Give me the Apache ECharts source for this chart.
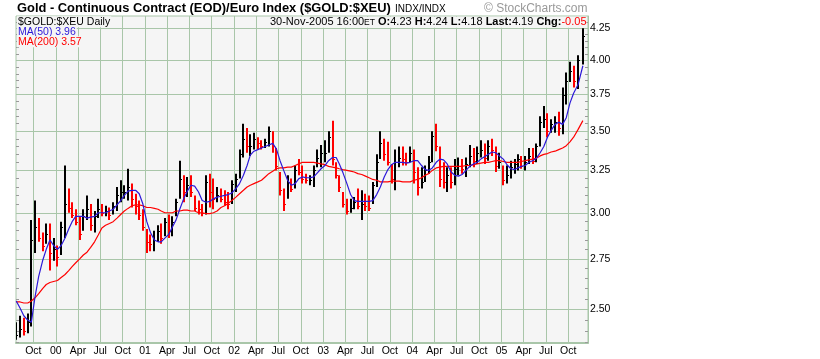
<!DOCTYPE html>
<html><head><meta charset="utf-8">
<script src="https://cdn.jsdelivr.net/npm/echarts@6/dist/echarts.min.js"></script>
<style>html,body{margin:0;padding:0;background:#fff}#c{width:820px;height:359px}</style>
</head><body><div id="c"></div>
<script>
// ---- data (half-month bars) ----
const dates = [
'1999-07-23','1999-08-08','1999-08-23','1999-09-08','1999-09-23','1999-10-08','1999-10-23','1999-11-08','1999-11-23','1999-12-08','1999-12-23',
'2000-01-08','2000-01-23','2000-02-08','2000-02-23','2000-03-08','2000-03-23','2000-04-08','2000-04-23','2000-05-08','2000-05-23','2000-06-08','2000-06-23','2000-07-08','2000-07-23','2000-08-08','2000-08-23','2000-09-08','2000-09-23','2000-10-08','2000-10-23','2000-11-08','2000-11-23','2000-12-08','2000-12-23',
'2001-01-08','2001-01-23','2001-02-08','2001-02-23','2001-03-08','2001-03-23','2001-04-08','2001-04-23','2001-05-08','2001-05-23','2001-06-08','2001-06-23','2001-07-08','2001-07-23','2001-08-08','2001-08-23','2001-09-08','2001-09-23','2001-10-08','2001-10-23','2001-11-08','2001-11-23','2001-12-08','2001-12-23',
'2002-01-08','2002-01-23','2002-02-08','2002-02-23','2002-03-08','2002-03-23','2002-04-08','2002-04-23','2002-05-08','2002-05-23','2002-06-08','2002-06-23','2002-07-08','2002-07-23','2002-08-08','2002-08-23','2002-09-08','2002-09-23','2002-10-08','2002-10-23','2002-11-08','2002-11-23','2002-12-08','2002-12-23',
'2003-01-08','2003-01-23','2003-02-08','2003-02-23','2003-03-08','2003-03-23','2003-04-08','2003-04-23','2003-05-08','2003-05-23','2003-06-08','2003-06-23','2003-07-08','2003-07-23','2003-08-08','2003-08-23','2003-09-08','2003-09-23','2003-10-08','2003-10-23','2003-11-08','2003-11-23','2003-12-08','2003-12-23',
'2004-01-08','2004-01-23','2004-02-08','2004-02-23','2004-03-08','2004-03-23','2004-04-08','2004-04-23','2004-05-08','2004-05-23','2004-06-08','2004-06-23','2004-07-08','2004-07-23','2004-08-08','2004-08-23','2004-09-08','2004-09-23','2004-10-08','2004-10-23','2004-11-08','2004-11-23','2004-12-08','2004-12-23',
'2005-01-08','2005-01-23','2005-02-08','2005-02-23','2005-03-08','2005-03-23','2005-04-08','2005-04-23','2005-05-08','2005-05-23','2005-06-08','2005-06-23','2005-07-08','2005-07-23','2005-08-08','2005-08-23','2005-09-08','2005-09-23','2005-10-08','2005-10-23','2005-11-10','2005-11-30'
];
const lows = [
2.36,2.37,2.38,2.39,2.42,2.78,2.84,2.79,2.83,2.69,2.74,
2.71,2.77,2.86,3.00,2.97,2.93,2.85,2.90,2.96,2.90,2.89,2.97,2.98,2.98,2.96,2.99,3.01,3.06,3.08,3.07,3.03,2.99,2.96,2.90,
2.78,2.79,2.79,2.84,2.83,2.87,2.86,2.87,2.98,3.08,3.06,3.09,3.09,3.01,2.99,2.98,2.99,3.03,3.02,3.06,3.06,3.04,3.02,3.05,
3.12,3.20,3.33,3.36,3.34,3.38,3.38,3.38,3.39,3.40,3.36,3.25,3.10,3.01,3.08,3.12,3.14,3.22,3.17,3.17,3.16,3.15,3.27,3.27,
3.30,3.36,3.28,3.20,3.12,3.03,2.99,3.00,3.02,3.02,2.96,3.01,3.01,3.05,3.15,3.32,3.31,3.28,3.17,3.13,3.27,3.28,3.28,3.30,
3.17,3.10,3.14,3.18,3.23,3.30,3.37,3.15,3.14,3.12,3.14,3.16,3.22,3.23,3.21,3.27,3.27,3.29,3.33,3.29,3.31,3.34,3.24,3.26,
3.16,3.17,3.20,3.23,3.25,3.26,3.25,3.29,3.29,3.30,3.40,3.52,3.46,3.49,3.49,3.47,3.48,3.68,3.84,3.80,3.79,3.97
];
const highs = [
2.44,2.47,2.46,2.48,2.96,3.07,2.97,2.89,2.94,2.94,2.86,
2.82,2.95,3.28,3.14,3.06,3.02,2.98,3.02,3.10,3.05,3.01,3.08,3.05,3.04,3.03,3.06,3.15,3.19,3.16,3.26,3.17,3.11,3.07,3.02,
2.91,2.88,2.90,2.93,2.94,2.97,2.99,2.98,3.08,3.31,3.22,3.21,3.22,3.10,3.07,3.05,3.22,3.23,3.20,3.15,3.14,3.13,3.12,3.19,
3.23,3.38,3.55,3.52,3.48,3.49,3.46,3.44,3.45,3.53,3.50,3.39,3.24,3.14,3.22,3.20,3.28,3.32,3.28,3.23,3.22,3.28,3.38,3.41,
3.44,3.50,3.57,3.30,3.22,3.12,3.08,3.08,3.09,3.14,3.13,3.11,3.10,3.18,3.35,3.50,3.45,3.43,3.29,3.38,3.40,3.40,3.36,3.40,
3.38,3.27,3.27,3.28,3.34,3.50,3.55,3.40,3.30,3.27,3.27,3.32,3.33,3.32,3.33,3.41,3.39,3.40,3.44,3.42,3.44,3.45,3.40,3.36,
3.28,3.28,3.31,3.32,3.35,3.34,3.34,3.39,3.39,3.42,3.60,3.67,3.62,3.58,3.60,3.63,3.80,3.91,3.99,3.96,4.04,4.25
];
const closes = [
2.38,2.41,2.40,2.44,2.85,2.92,2.86,2.82,2.88,2.78,2.80,
2.76,2.92,3.05,3.03,2.99,2.95,2.88,2.98,3.02,2.93,2.98,3.02,3.00,3.01,2.99,3.04,3.10,3.12,3.12,3.15,3.08,3.04,2.99,2.92,
2.84,2.83,2.85,2.90,2.86,2.95,2.90,2.95,3.06,3.20,3.12,3.16,3.12,3.03,3.02,3.00,3.18,3.12,3.08,3.10,3.08,3.06,3.05,3.17,
3.20,3.35,3.45,3.40,3.40,3.45,3.42,3.40,3.43,3.50,3.40,3.28,3.13,3.05,3.18,3.14,3.25,3.24,3.20,3.19,3.19,3.25,3.33,3.36,
3.36,3.46,3.32,3.22,3.15,3.05,3.01,3.03,3.06,3.04,3.05,3.04,3.03,3.16,3.30,3.42,3.35,3.30,3.20,3.30,3.33,3.32,3.30,3.36,
3.24,3.15,3.18,3.25,3.30,3.47,3.40,3.20,3.18,3.22,3.18,3.26,3.28,3.26,3.29,3.34,3.31,3.36,3.38,3.33,3.40,3.38,3.28,3.30,
3.19,3.22,3.27,3.29,3.32,3.28,3.30,3.34,3.31,3.40,3.56,3.58,3.50,3.55,3.56,3.52,3.75,3.85,3.92,3.85,4.00,4.19
];
const ma50 = [
2.54,2.505,2.47,2.45,2.44,2.56,2.66,2.74,2.80,2.85,2.82,
2.80,2.82,2.86,2.91,2.95,2.98,2.98,2.98,2.97,2.975,2.98,3.00,3.00,3.00,3.01,3.02,3.045,3.07,3.10,3.125,3.13,3.13,3.11,3.05,
2.95,2.89,2.85,2.84,2.84,2.86,2.88,2.92,2.96,3.02,3.08,3.125,3.16,3.155,3.12,3.07,3.06,3.065,3.08,3.09,3.095,3.10,3.105,3.115,
3.14,3.17,3.22,3.28,3.345,3.37,3.38,3.39,3.40,3.41,3.42,3.385,3.31,3.25,3.19,3.16,3.17,3.20,3.21,3.205,3.205,3.21,3.235,3.26,
3.28,3.31,3.33,3.33,3.29,3.235,3.17,3.105,3.07,3.065,3.065,3.065,3.065,3.07,3.105,3.15,3.21,3.255,3.285,3.30,3.30,3.30,3.295,3.30,
3.31,3.31,3.28,3.255,3.25,3.265,3.30,3.32,3.315,3.29,3.24,3.22,3.215,3.225,3.25,3.275,3.29,3.30,3.32,3.335,3.35,3.365,3.36,3.34,
3.32,3.285,3.26,3.255,3.265,3.275,3.28,3.30,3.31,3.325,3.36,3.40,3.46,3.505,3.545,3.56,3.545,3.59,3.69,3.76,3.82,3.96
];
const ma200 = [
2.535,2.535,2.53,2.53,2.54,2.555,2.575,2.60,2.62,2.63,2.635,
2.64,2.655,2.67,2.69,2.71,2.73,2.75,2.77,2.785,2.81,2.84,2.877,2.915,2.93,2.94,2.95,2.97,2.99,3.01,3.025,3.04,3.045,3.045,3.04,
3.03,3.03,3.025,3.02,3.01,3.00,3.00,3.00,3.01,3.01,3.015,3.015,3.01,3.01,3.00,3.00,2.995,2.995,3.00,3.01,3.03,3.04,3.055,3.07,
3.09,3.11,3.13,3.15,3.16,3.17,3.18,3.19,3.21,3.23,3.245,3.26,3.265,3.265,3.27,3.27,3.28,3.29,3.30,3.30,3.30,3.30,3.295,3.29,
3.285,3.275,3.27,3.265,3.26,3.255,3.25,3.245,3.24,3.23,3.225,3.215,3.205,3.195,3.19,3.18,3.18,3.18,3.185,3.185,3.185,3.18,3.18,3.18,
3.19,3.195,3.205,3.22,3.23,3.25,3.265,3.27,3.275,3.275,3.275,3.275,3.275,3.275,3.28,3.28,3.285,3.29,3.295,3.30,3.30,3.305,3.31,3.31,
3.305,3.30,3.30,3.30,3.30,3.305,3.31,3.315,3.32,3.325,3.34,3.35,3.355,3.365,3.37,3.38,3.39,3.405,3.43,3.46,3.51,3.57
];
const yTickLabels = [2.50, 2.75, 3.00, 3.25, 3.50, 3.75, 4.00, 4.25];
const yMinorTicks = [2.35,2.40,2.45,2.55,2.60,2.65,2.70,2.80,2.85,2.90,2.95,3.05,3.10,3.15,3.20,3.30,3.35,3.40,3.45,3.55,3.60,3.65,3.70,3.80,3.85,3.90,3.95,4.05,4.10,4.15,4.20,4.30];
const xTickDates = ['1999-10-01','2000-01-01','2000-04-01','2000-07-01','2000-10-01','2001-01-01','2001-04-01','2001-07-01','2001-10-01','2002-01-01','2002-04-01','2002-07-01','2002-10-01','2003-01-01','2003-04-01','2003-07-01','2003-10-01','2004-01-01','2004-04-01','2004-07-01','2004-10-01','2005-01-01','2005-04-01','2005-07-01','2005-10-01'];
const xTickLabels = ['Oct','00','Apr','Jul','Oct','01','Apr','Jul','Oct','02','Apr','Jul','Oct','03','Apr','Jul','Oct','04','Apr','Jul','Oct','05','Apr','Jul','Oct'];
const yMin = 2.346, yMax = 4.35;
const xMinDate = '1999-07-22', xMaxDate = '2005-12-21';
const lastStamp = '30-Nov-2005 16:00';
const lastOpen = '4.23', lastHigh = '4.24', lastLow = '4.18', lastClose = '4.19', lastChg = '-0.05';

// ---- build ----
const FONT = '"Liberation Sans", Arial, Helvetica, sans-serif';
const GRID = '#a9c6a9';
const BG = '#f5f5f5';
const BLUE = '#2c18d8';
const RED = '#ff0000';
const DAY = 86400000;
function ts(s){ const p = s.split('-').map(Number); return Math.round(Date.UTC(p[0], p[1]-1, p[2]) / DAY); }
const xTicks = xTickDates.map(ts);
const xLabelMap = new Map(xTicks.map((t,i)=>[t, xTickLabels[i]]));
const lnMin = Math.log(yMin), lnMax = Math.log(yMax);

const barData = dates.map((d,i)=>[ts(d), Math.log(lows[i]), Math.log(highs[i]), (i===0 || closes[i] >= closes[i-1]) ? 1 : 0, Math.log(closes[i])]);
const ma50Data = dates.map((d,i)=>[ts(d), Math.log(ma50[i])]);
const ma200Data = dates.map((d,i)=>[ts(d), Math.log(ma200[i])]);

const chart = echarts.init(document.getElementById('c'), null, {renderer:'canvas'});
const minorAxis = (pos)=>({
  type:'value', position:pos, min:lnMin, max:lnMax,
  axisLine:{show:false}, axisLabel:{show:false}, splitLine:{show:false},
  axisTick:{show:true, inside:true, length:3, customValues: yMinorTicks.map(Math.log), lineStyle:{color:'#9a9a9a', width:1}}
});
chart.setOption({
  animation:false,
  backgroundColor:'#fff',
  grid:{left:16, right:232, top:16, bottom:16, show:true, backgroundColor:BG, borderColor:GRID, borderWidth:1, containLabel:false},
  xAxis:{
    type:'value', min:ts(xMinDate), max:ts(xMaxDate),
    axisLine:{show:true, onZero:false, lineStyle:{color:GRID, width:2}},
    axisTick:{show:false, customValues:xTicks},
    axisLabel:{customValues:xTicks, formatter:(v)=>xLabelMap.get(Math.round(v)) || '', color:'#000', fontSize:10.5, fontFamily:FONT, margin:3, hideOverlap:false},
    splitLine:{show:true, lineStyle:{color:GRID, width:1}}
  },
  yAxis:[
    {
      type:'value', position:'right', min:lnMin, max:lnMax,
      axisLine:{show:true, lineStyle:{color:GRID, width:1}},
      axisTick:{show:false, customValues: yTickLabels.map(Math.log)},
      axisLabel:{customValues: yTickLabels.map(Math.log), formatter:(v)=>Math.exp(v).toFixed(2), color:'#000', fontSize:10.5, fontFamily:FONT, margin:2},
      splitLine:{show:true, lineStyle:{color:GRID, width:1}}
    },
    minorAxis('right'),
    minorAxis('left')
  ],
  series:[
    {
      type:'custom', clip:true, encode:{x:0, y:[1,2]}, data:barData, z:2,
      renderItem:function(params, api){
        const t = api.value(0);
        const pLo = api.coord([t, api.value(1)]);
        const pHi = api.coord([t, api.value(2)]);
        const pC = api.coord([t, api.value(4)]);
        const up = api.value(3) > 0;
        const col = up ? '#000' : RED;
        const x0 = Math.round(pLo[0]) - 1;
        return {type:'group', children:[
          {type:'rect', shape:{x:x0, y:pHi[1], width:2, height:Math.max(1, pLo[1]-pHi[1])}, style:{fill:col}},
          {type:'rect', shape:{x:x0+2, y:Math.round(pC[1]), width:1, height:1}, style:{fill:col}}
        ]};
      }
    },
    {type:'line', data:ma200Data, showSymbol:false, symbol:'none', z:3, lineStyle:{color:RED, width:1.2}, clip:true},
    {type:'line', data:ma50Data, showSymbol:false, symbol:'none', z:4, lineStyle:{color:BLUE, width:1.2}, clip:true}
  ],
  graphic:[
    {type:'text', x:17, y:8.5, z:100, style:{text:'Gold - Continuous Contract (EOD)/Euro Index ($GOLD:$XEU)', font:'bold 12.9px '+FONT, fill:'#000', verticalAlign:'middle'}},
    {type:'text', x:395, y:9.3, z:100, style:{text:'INDX/INDX', font:'10px '+FONT, fill:'#000', verticalAlign:'middle'}},
    {type:'text', x:587.5, y:8.3, z:100, style:{text:'\u00a9 StockCharts.com', font:'12px '+FONT, fill:'#999', align:'right', verticalAlign:'middle'}},
    {type:'text', x:17, y:21.7, z:100, style:{text:'$GOLD:$XEU Daily', font:'10.5px '+FONT, fill:'#000', verticalAlign:'middle', backgroundColor:BG, padding:[0,1]}},
    {type:'text', x:17, y:32.2, z:100, style:{text:'MA(50) ' + ma50[ma50.length-1].toFixed(2), font:'10.5px '+FONT, fill:BLUE, verticalAlign:'middle', backgroundColor:BG, padding:[0,1]}},
    {type:'text', x:17, y:41.8, z:100, style:{text:'MA(200) ' + ma200[ma200.length-1].toFixed(2), font:'10.5px '+FONT, fill:RED, verticalAlign:'middle', backgroundColor:BG, padding:[0,1]}},
    {type:'text', x:586.5, y:22.2, z:100, style:{
      text:'{n|'+lastStamp+'}{s|ET} {b|O:}{n|'+lastOpen+'} {b|H:}{n|'+lastHigh+'} {b|L:}{n|'+lastLow+'} {b|Last:}{n|'+lastClose+'} {b|Chg:}{r|'+lastChg+'}',
      font:'11px '+FONT, fill:'#000', align:'right', verticalAlign:'middle', backgroundColor:BG,
      rich:{n:{font:'11px '+FONT, fill:'#000'}, s:{font:'8.5px '+FONT, fill:'#000'}, b:{font:'bold 11px '+FONT, fill:'#000'}, r:{font:'11px '+FONT, fill:RED}}
    }}
  ]
});
</script></body></html>
